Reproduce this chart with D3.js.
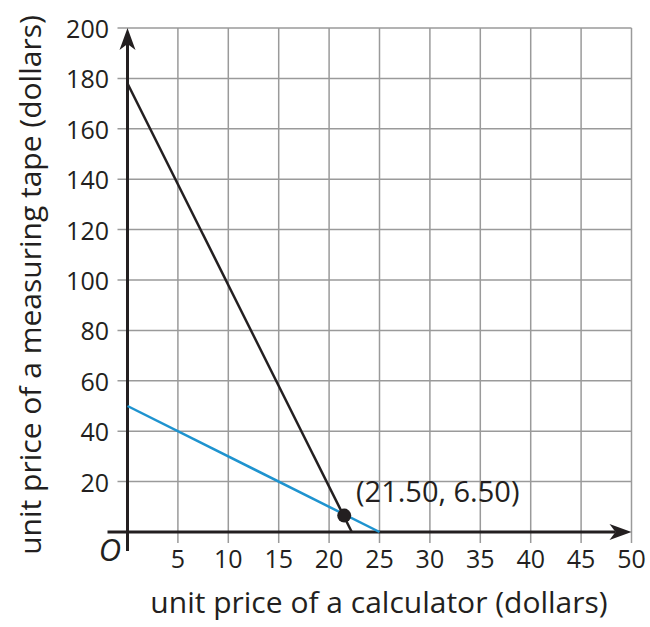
<!DOCTYPE html>
<html>
<head>
<meta charset="utf-8">
<script src="https://cdn.jsdelivr.net/npm/d3@7"></script>
<style>
  body { margin: 0; background: #fff; }
  text { font-family: "Open Sans", sans-serif; fill: #231f20; }
</style>
</head>
<body>
<svg id="chart" width="650" height="627"></svg>
<script>
// data
let xTicks = [5, 10, 15, 20, 25, 30, 35, 40, 45, 50];
let yTicks = [20, 40, 60, 80, 100, 120, 140, 160, 180, 200];
let blackLine = [[0, 178], [22.25, 0]];
let blueLine = [[0, 50], [25, 0]];
let solution = [21.5, 6.5];
let solutionLabel = "(21.50, 6.50)";

let svg = d3.select("#chart");

var x = d3.scaleLinear().domain([0, 50]).range([127.5, 631.5]);
var y = d3.scaleLinear().domain([0, 200]).range([532, 28]);

// grid
svg.append("g")
  .selectAll("line")
  .data(xTicks)
  .enter().append("line")
    .attr("x1", d => x(d)).attr("x2", d => x(d))
    .attr("y1", y(200)).attr("y2", y(0) + 11)
    .attr("stroke", "#9a9a9a").attr("stroke-width", 1.5);

svg.append("g")
  .selectAll("line")
  .data(yTicks)
  .enter().append("line")
    .attr("x1", x(0) - 10).attr("x2", x(50))
    .attr("y1", d => y(d)).attr("y2", d => y(d))
    .attr("stroke", "#9a9a9a").attr("stroke-width", 1.5);

// tick labels
svg.append("g")
  .selectAll("text")
  .data(xTicks)
  .enter().append("text")
    .attr("x", d => x(d))
    .attr("y", y(0) + 36)
    .attr("text-anchor", "middle")
    .attr("font-size", 25)
    .text(d => d);

svg.append("g")
  .selectAll("text")
  .data(yTicks)
  .enter().append("text")
    .attr("x", 109)
    .attr("y", d => y(d) + 10)
    .attr("text-anchor", "end")
    .attr("font-size", 25)
    .text(d => d);

// axes with arrows
svg.append("line")
  .attr("x1", x(0) - 20).attr("x2", x(50) - 16)
  .attr("y1", y(0)).attr("y2", y(0))
  .attr("stroke", "#231f20").attr("stroke-width", 3);
svg.append("line")
  .attr("x1", x(0)).attr("x2", x(0))
  .attr("y1", y(0) + 19).attr("y2", y(200) + 16)
  .attr("stroke", "#231f20").attr("stroke-width", 3);

svg.append("path")
  .attr("d", `M${x(50)},${y(0)} L${x(50) - 22},${y(0) - 8} L${x(50) - 16},${y(0)} L${x(50) - 22},${y(0) + 8} Z`)
  .attr("fill", "#231f20");
svg.append("path")
  .attr("d", `M${x(0)},${y(200)} L${x(0) - 8},${y(200) + 22} L${x(0)},${y(200) + 16} L${x(0) + 8},${y(200) + 22} Z`)
  .attr("fill", "#231f20");

// origin label
svg.append("text")
  .attr("x", 110).attr("y", 561)
  .attr("text-anchor", "middle")
  .attr("font-family", "DejaVu Serif, serif")
  .attr("font-style", "italic")
  .attr("font-size", 31)
  .text("O");

// lines
var line = d3.line().x(d => x(d[0])).y(d => y(d[1]));

svg.append("path")
  .attr("d", line(blueLine))
  .attr("fill", "none")
  .attr("stroke", "#1e93cf")
  .attr("stroke-width", 2.5);

svg.append("path")
  .attr("d", line(blackLine))
  .attr("fill", "none")
  .attr("stroke", "#231f20")
  .attr("stroke-width", 2.5);

svg.append("circle")
  .attr("cx", x(solution[0]))
  .attr("cy", y(solution[1]))
  .attr("r", 7)
  .attr("fill", "#231f20");

svg.append("text")
  .attr("x", 356).attr("y", 502)
  .attr("font-size", 29)
  .text(solutionLabel);

// axis titles
svg.append("text")
  .attr("x", 379).attr("y", 613)
  .attr("text-anchor", "middle")
  .attr("font-size", 30)
  .text("unit price of a calculator (dollars)");

svg.append("text")
  .attr("transform", "translate(41,285) rotate(-90)")
  .attr("text-anchor", "middle")
  .attr("font-size", 30)
  .text("unit price of a measuring tape (dollars)");
</script>
</body>
</html>
